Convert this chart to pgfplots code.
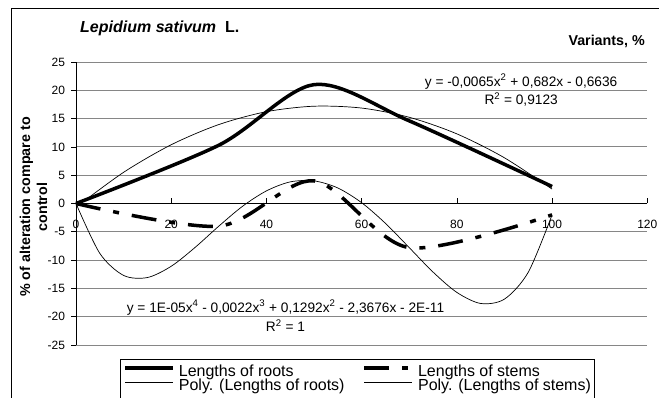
\documentclass[border=0pt]{standalone}
\usepackage{fontspec}
\setmainfont{Liberation Sans}
\usepackage{pgfplots}
\pgfplotsset{compat=1.18}
\begin{document}
\begin{tikzpicture}
\useasboundingbox (0,0) rectangle (659pt,398pt);
\draw[line width=1pt] (11.5pt,-5pt) -- (11.5pt,389.7pt) -- (665pt,389.7pt);
\node[anchor=west, font=\fontsize{16}{18}\selectfont\bfseries, inner sep=0pt] at (80pt,370pt) {\itshape Lepidium sativum\/\upshape\ \ L.};
\node[anchor=east, font=\fontsize{14.3}{17}\selectfont\bfseries, inner sep=0pt] at (645pt,357pt) {Variants, \%};
\node[rotate=90, align=center, font=\fontsize{14.3}{17}\selectfont\bfseries, inner sep=0pt] at (33.5pt,191pt) {\% of alteration compare to\\control};
\begin{axis}[
 at={(76pt,53pt)}, anchor=south west,
 scale only axis, width=571.3pt, height=283pt,
 xmin=0, xmax=120, ymin=-25, ymax=25,
 axis x line=middle, axis y line=left,
 axis line style={-, line width=0.8pt, black},
 xtick={0,20,...,120}, ytick={-25,-20,...,25},
 yticklabels={-25,-20,-15,-10,-5,0,5,10,15,20,25},
 xticklabels={0,20,40,60,80,100,120},
 hide obscured x ticks=false,
 tick align=center, major tick length=5pt,
 xtick style={yshift=2.5pt, line width=0.6pt, black},
 ytick style={xshift=-2.5pt, line width=0.6pt, black},
 ymajorgrids, grid style={line width=0.8pt, gray!95},
 tick label style={font=\fontsize{12}{14}\selectfont},
 xticklabel style={yshift=-11pt},
 yticklabel style={xshift=-5pt},
 clip=false,
 legend columns=2,
 legend cell align=left,
 legend style={at={(0.077,-0.05)}, anchor=north west, draw=black, line width=0.8pt,
   font=\fontsize{16}{18}\selectfont, inner xsep=3pt, inner ysep=5pt,
   nodes={inner sep=0pt, text height=11.5pt, text depth=3pt}, row sep=0pt,
   /tikz/every odd column/.append style={column sep=4pt},
   /tikz/every even column/.append style={column sep=18pt}},
 legend image code/.code={\draw[#1] (0pt,4pt) -- (48pt,4pt);},
]
\addplot[black, line width=3.5pt, smooth] coordinates {(0,0) (30,10.3) (50,21) (70,14.6) (100,3)};
\addlegendentry{Lengths of roots}
\addplot[black, line width=3.5pt, smooth, dash pattern=on 25pt off 13pt on 6pt off 13pt] coordinates {(0,0) (30,-4) (50,4) (70,-7.8) (100,-2)};
\addlegendentry{Lengths of stems}
\addplot[black, line width=0.7pt, smooth] coordinates {(0,-0.66) (10,5.51) (20,10.38) (30,13.95) (40,16.22) (50,17.19) (60,16.86) (70,15.23) (80,12.30) (90,8.07) (100,2.54)};
\addlegendentry{Poly. (Lengths of roots)}
\addplot[black, line width=0.7pt, smooth] coordinates {(0,0) (5,-8.81) (10,-12.71) (15,-13.08) (20,-11.09) (25,-7.77) (30,-4) (35,-0.48) (40,2.23) (45,3.82) (50,4) (55,2.74) (60,0.14) (65,-3.51) (70,-7.8) (75,-12.12) (80,-15.71) (85,-17.66) (90,-16.89) (95,-12.14) (100,-2)};
\addlegendentry{Poly. (Lengths of stems)}
\node[font=\fontsize{13.7}{16}\selectfont] at (axis cs:93.5,21.55) {y = -0,0065x\textsuperscript{2} + 0,682x - 0,6636};
\node[font=\fontsize{13.7}{16}\selectfont] at (axis cs:93.5,18.4) {R\textsuperscript{2} = 0,9123};
\node[font=\fontsize{13.7}{16}\selectfont] at (axis cs:44,-18.4) {y = 1E-05x\textsuperscript{4} - 0,0022x\textsuperscript{3} + 0,1292x\textsuperscript{2} - 2,3676x - 2E-11};
\node[font=\fontsize{13.7}{16}\selectfont] at (axis cs:44,-21.55) {R\textsuperscript{2} = 1};
\end{axis}
\end{tikzpicture}
\end{document}
